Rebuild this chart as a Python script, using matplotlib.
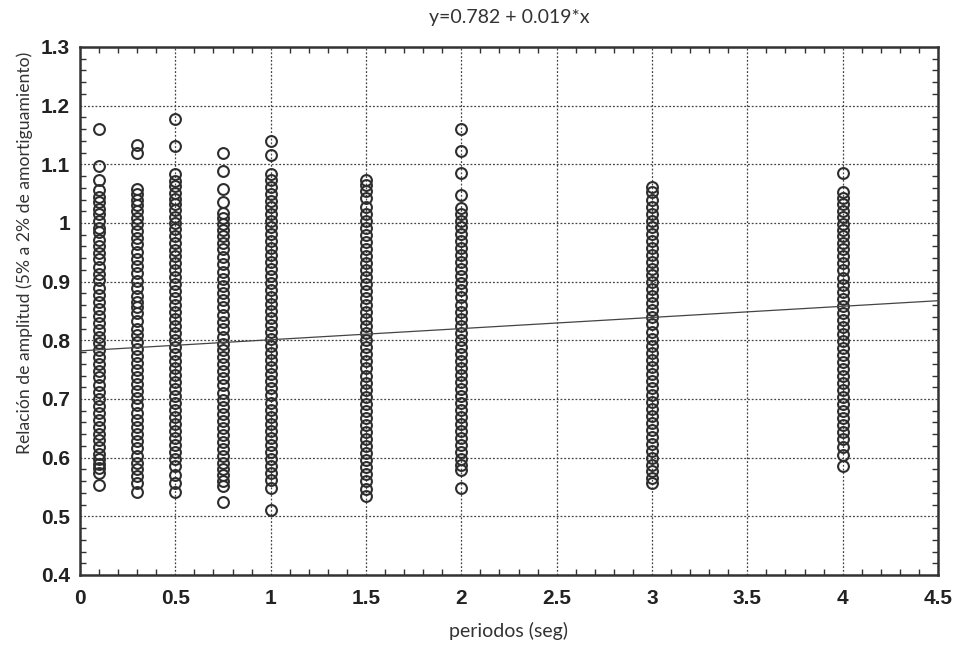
import matplotlib
matplotlib.use("Agg")
import matplotlib.pyplot as plt
from matplotlib.ticker import MultipleLocator
import numpy as np

# Periods (seg) and the amplitude ratios
PERIODS = [0.1, 0.3, 0.5, 0.75, 1.0, 1.5, 2.0, 3.0, 4.0]

y_01 = [1.160, 1.097, 1.073, 1.056, 1.045, 1.036, 1.024, 1.015, 1.003, 0.992, 0.984, 0.971,
        0.960, 0.948, 0.939, 0.925, 0.913, 0.902, 0.889, 0.878, 0.866, 0.853, 0.842, 0.830,
        0.818, 0.806, 0.795, 0.783, 0.771, 0.760, 0.748, 0.737, 0.724, 0.712, 0.700, 0.688,
        0.676, 0.665, 0.652, 0.641, 0.630, 0.618, 0.607, 0.598, 0.590, 0.582, 0.574, 0.553]
y_03 = [1.133, 1.120, 1.058, 1.049, 1.040, 1.031, 1.020, 1.008, 0.998, 0.987, 0.975, 0.964,
        0.950, 0.938, 0.926, 0.914, 0.901, 0.890, 0.876, 0.866, 0.857, 0.846, 0.833, 0.820,
        0.809, 0.797, 0.786, 0.774, 0.762, 0.749, 0.738, 0.725, 0.713, 0.701, 0.689, 0.676,
        0.664, 0.652, 0.640, 0.628, 0.616, 0.603, 0.591, 0.580, 0.568, 0.556, 0.542]
y_05 = [1.177, 1.131, 1.084, 1.072, 1.063, 1.051, 1.041, 1.033, 1.022, 1.011, 1.000, 0.989,
        0.977, 0.966, 0.954, 0.943, 0.931, 0.920, 0.908, 0.896, 0.884, 0.872, 0.860, 0.849,
        0.837, 0.825, 0.812, 0.800, 0.789, 0.777, 0.765, 0.753, 0.741, 0.729, 0.717, 0.705,
        0.693, 0.681, 0.669, 0.657, 0.645, 0.633, 0.621, 0.609, 0.597, 0.585, 0.571, 0.557, 0.542]
y_075 = [1.120, 1.089, 1.058, 1.036, 1.017, 1.008, 0.999, 0.988, 0.977, 0.966, 0.955, 0.942,
         0.930, 0.917, 0.905, 0.893, 0.880, 0.868, 0.856, 0.843, 0.831, 0.819, 0.806, 0.794,
         0.783, 0.771, 0.759, 0.747, 0.735, 0.723, 0.711, 0.699, 0.686, 0.674, 0.662, 0.650,
         0.638, 0.626, 0.614, 0.602, 0.591, 0.580, 0.570, 0.560, 0.551, 0.525]
y_1 = [1.139, 1.116, 1.084, 1.073, 1.061, 1.049, 1.038, 1.027, 1.016, 1.004, 0.993, 0.981,
       0.970, 0.958, 0.946, 0.934, 0.922, 0.910, 0.898, 0.886, 0.874, 0.862, 0.850, 0.838,
       0.826, 0.814, 0.802, 0.790, 0.778, 0.766, 0.754, 0.742, 0.730, 0.718, 0.706, 0.694,
       0.682, 0.670, 0.658, 0.646, 0.634, 0.622, 0.610, 0.598, 0.586, 0.574, 0.562, 0.548, 0.510]
y_15 = [1.073, 1.064, 1.055, 1.043, 1.028, 1.015, 1.003, 0.991, 0.980, 0.968, 0.956, 0.944,
        0.932, 0.920, 0.908, 0.896, 0.884, 0.872, 0.860, 0.848, 0.836, 0.824, 0.812, 0.800,
        0.788, 0.776, 0.764, 0.752, 0.740, 0.728, 0.716, 0.704, 0.692, 0.680, 0.668, 0.656,
        0.644, 0.632, 0.620, 0.608, 0.596, 0.584, 0.572, 0.560, 0.546, 0.534]
y_2 = [1.160, 1.122, 1.086, 1.047, 1.025, 1.015, 1.004, 0.993, 0.981, 0.969, 0.957, 0.945,
       0.933, 0.921, 0.909, 0.897, 0.885, 0.873, 0.861, 0.849, 0.837, 0.825, 0.813, 0.801,
       0.789, 0.777, 0.765, 0.753, 0.741, 0.729, 0.717, 0.705, 0.693, 0.681, 0.669, 0.657,
       0.645, 0.633, 0.621, 0.609, 0.597, 0.588, 0.579, 0.549]
y_3 = [1.062, 1.052, 1.040, 1.028, 1.016, 1.004, 0.993, 0.982, 0.970, 0.958, 0.946, 0.934,
       0.922, 0.911, 0.899, 0.887, 0.875, 0.863, 0.851, 0.839, 0.827, 0.815, 0.803, 0.791,
       0.779, 0.767, 0.755, 0.743, 0.731, 0.719, 0.707, 0.695, 0.683, 0.671, 0.659, 0.647,
       0.635, 0.623, 0.611, 0.599, 0.588, 0.577, 0.566, 0.556]
y_4 = [1.085, 1.052, 1.042, 1.032, 1.021, 1.010, 0.999, 0.988, 0.977, 0.966, 0.955, 0.943,
       0.931, 0.919, 0.907, 0.895, 0.883, 0.871, 0.859, 0.847, 0.835, 0.823, 0.811, 0.799,
       0.787, 0.775, 0.763, 0.751, 0.739, 0.727, 0.715, 0.703, 0.691, 0.679, 0.667, 0.655,
       0.643, 0.631, 0.619, 0.605, 0.585]

COLUMNS = [y_01, y_03, y_05, y_075, y_1, y_15, y_2, y_3, y_4]

# Fitted line y = a + b*x
FIT_A = 0.782
FIT_B = 0.019

OUTPUT_FILE = "out.png"


def main():
    label_font = ["Lato", "DejaVu Sans"]
    tick_font = ["Liberation Sans", "DejaVu Sans"]

    fig = plt.figure(figsize=(9.61, 6.47), dpi=100)
    ax = fig.add_axes([0.0832, 0.1113, 0.8929, 0.8161])

    for x, ys in zip(PERIODS, COLUMNS):
        ax.plot([x] * len(ys), ys, linestyle="none", marker="o", markersize=7.8,
                markerfacecolor="none", markeredgecolor="#2e2e2e", markeredgewidth=1.5,
                zorder=3)

    xs = np.array([0.0, 4.5])
    ax.plot(xs, FIT_A + FIT_B * xs, color="#444444", linewidth=0.9, zorder=4)

    ax.set_xlim(0, 4.5)
    ax.set_ylim(0.4, 1.3)
    ax.xaxis.set_minor_locator(MultipleLocator(0.1))
    ax.yaxis.set_minor_locator(MultipleLocator(0.02))
    ax.set_xticks(np.arange(0, 4.51, 0.5))
    ax.set_xticklabels(["0", "0.5", "1", "1.5", "2", "2.5", "3", "3.5", "4", "4.5"])
    ax.set_yticks(np.arange(0.4, 1.31, 0.1))
    ax.set_yticklabels(["0.4", "0.5", "0.6", "0.7", "0.8", "0.9", "1", "1.1", "1.2", "1.3"])

    ax.tick_params(which="both", direction="in", top=True, right=True, color="#333333")
    ax.tick_params(axis="y", which="major", length=0, pad=7)
    ax.tick_params(axis="x", which="major", length=0, pad=10)
    ax.tick_params(which="minor", length=4, width=1)
    for lab in ax.get_xticklabels() + ax.get_yticklabels():
        lab.set_family(tick_font)
        lab.set_fontweight("bold")
        lab.set_fontsize(15)
        lab.set_color("#222222")

    ax.grid(True, which="major", linestyle=(0, (1.5, 1.5)), color="#444444", linewidth=0.9)
    for sp in ax.spines.values():
        sp.set_linewidth(1.8)
        sp.set_color("#333333")

    ax.set_title("y=0.782 + 0.019*x", family=label_font, fontsize=14, color="#333333", pad=17)
    ax.set_xlabel("periodos (seg)", family=label_font, fontsize=14, color="#333333", labelpad=10)
    ax.set_ylabel("Relación de amplitud (5% a 2% de amortiguamiento)", family=label_font,
                  fontsize=12.7, color="#333333")
    ax.yaxis.set_label_coords(-0.055, 0.61)

    fig.savefig(OUTPUT_FILE, dpi=100)


if __name__ == "__main__":
    main()
